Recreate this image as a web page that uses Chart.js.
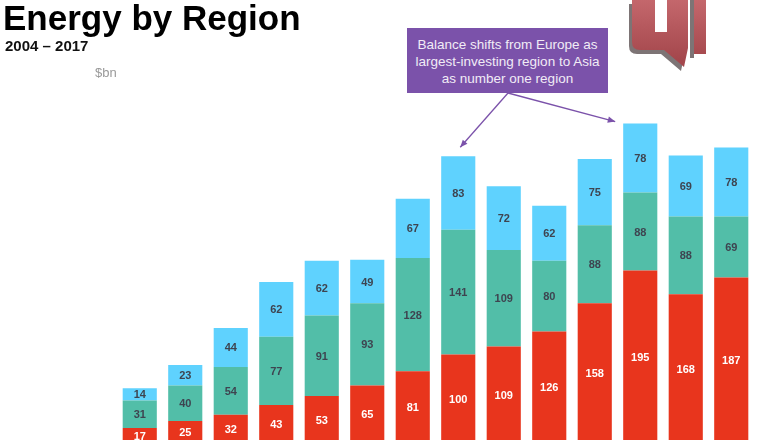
<!DOCTYPE html>
<html>
<head>
<meta charset="utf-8">
<title>Energy by Region</title>
<script src="https://cdn.jsdelivr.net/npm/chart.js@4.4.1/dist/chart.umd.min.js"></script>
<style>
  html, body { margin: 0; padding: 0; background: #fff; overflow: hidden; }
  body { width: 780px; height: 440px; position: relative; font-family: "Liberation Sans", Arial, Helvetica, sans-serif; }
  #wrap { position: absolute; left: 0; top: 0; width: 780px; height: 450px; }
  .title { position: absolute; left: 3px; top: 0px; font-size: 35px; line-height: 35px; font-weight: bold; color: #000; white-space: nowrap; }
  .sub { position: absolute; left: 5px; top: 38px; font-size: 15px; line-height: 15px; font-weight: bold; color: #111; white-space: nowrap; }
  .unit { position: absolute; left: 95px; top: 66px; font-size: 13px; line-height: 13px; color: #999; }
  .note { position: absolute; left: 407px; top: 28px; width: 201px; height: 65px; background: #7b52aa;
          color: #f1ecf6; font-size: 13.5px; line-height: 17px; text-align: center;
          display: flex; align-items: center; justify-content: center; box-sizing: border-box; padding-top: 1px; }
</style>
</head>
<body>
<div id="wrap"><canvas id="barChart"></canvas></div>
<div class="title">Energy by Region</div>
<div class="sub">2004 – 2017</div>
<div class="unit">$bn</div>
<div class="note">Balance shifts from Europe as<br>largest-investing region to Asia<br>as number one region</div>

<script>
/* global Chart */

// datos
const years = ['2004', '2005', '2006', '2007', '2008', '2009', '2010', '2011', '2012', '2013', '2014', '2015', '2016', '2017'];
const asia = [17, 25, 32, 43, 53, 65, 81, 100, 109, 126, 158, 195, 168, 187];
const europe = [31, 40, 54, 77, 91, 93, 128, 141, 109, 80, 88, 88, 88, 69];
const others = [14, 23, 44, 62, 62, 49, 67, 83, 72, 62, 75, 78, 69, 78];

const purple = '#7b52aa';

// etiquetas de valor en el centro de cada segmento
const valueLabels = {
    id: 'valueLabels',
    afterDatasetsDraw(chart) {
        const ctx = chart.ctx;
        ctx.save();
        ctx.font = 'bold 11px "Liberation Sans", Arial, sans-serif';
        ctx.textAlign = 'center';
        ctx.textBaseline = 'middle';
        chart.data.datasets.forEach((ds, i) => {
            const meta = chart.getDatasetMeta(i);
            meta.data.forEach((bar, j) => {
                const y = (bar.y + bar.base) / 2;
                ctx.fillStyle = i === 0 ? '#ffffff' : '#3e4450';
                ctx.fillText(ds.data[j], bar.x, y + 1);
            });
        });
        ctx.restore();
    }
};

// flechas desde la nota hacia 2011 y 2015
function arrow(ctx, x1, y1, x2, y2) {
    const a = Math.atan2(y2 - y1, x2 - x1);
    ctx.beginPath();
    ctx.moveTo(x1, y1);
    ctx.lineTo(x2, y2);
    ctx.stroke();
    ctx.beginPath();
    ctx.moveTo(x2, y2);
    ctx.lineTo(x2 - 8 * Math.cos(a - 0.4), y2 - 8 * Math.sin(a - 0.4));
    ctx.lineTo(x2 - 8 * Math.cos(a + 0.4), y2 - 8 * Math.sin(a + 0.4));
    ctx.closePath();
    ctx.fill();
}

const arrows = {
    id: 'arrows',
    afterDraw(chart) {
        const ctx = chart.ctx;
        const top = chart.getDatasetMeta(2).data;
        const b2011 = top[years.indexOf('2011')];
        const b2015 = top[years.indexOf('2015')];
        ctx.save();
        ctx.strokeStyle = purple;
        ctx.fillStyle = purple;
        ctx.lineWidth = 1.3;
        arrow(ctx, 508, 93, b2011.x + 2, b2011.y - 9);
        arrow(ctx, 508, 93, b2015.x - b2015.width / 2 - 8, b2015.y - 2);
        ctx.restore();
    }
};

// logo recortado arriba a la derecha
const logo = {
    id: 'logo',
    afterDraw(chart) {
        const ctx = chart.ctx;
        function qShape(dx, dy) {
            ctx.beginPath();
            ctx.moveTo(632 + dx, 0 + dy);
            ctx.lineTo(688 + dx, 0 + dy);
            ctx.lineTo(688 + dx, 48 + dy);
            ctx.lineTo(684 + dx, 67 + dy);
            ctx.lineTo(664 + dx, 50 + dy);
            ctx.lineTo(640 + dx, 50 + dy);
            ctx.quadraticCurveTo(632 + dx, 50 + dy, 632 + dx, 42 + dy);
            ctx.closePath();
        }
        ctx.save();
        ctx.fillStyle = '#7d7475';
        qShape(-3, 4);
        ctx.fill();
        ctx.fillRect(690, 0, 4, 58);
        const g = ctx.createLinearGradient(0, 0, 0, 60);
        g.addColorStop(0, '#c4676c');
        g.addColorStop(1, '#a4474c');
        ctx.fillStyle = g;
        qShape(0, 0);
        ctx.fill();
        ctx.fillRect(694, 0, 12, 54);
        ctx.fillStyle = '#ffffff';
        ctx.fillRect(655, 0, 12, 32);
        ctx.restore();
    }
};

const ctx = document.getElementById('barChart').getContext('2d');
const myChart = new Chart(ctx, {
    type: 'bar',
    data: {
        labels: years,
        datasets: [
            { label: 'Asia', data: asia, backgroundColor: '#e8351d' },
            { label: 'Europe', data: europe, backgroundColor: '#52bea8' },
            { label: 'Other', data: others, backgroundColor: '#5fd2fe' }
        ]
    },
    options: {
        responsive: true,
        maintainAspectRatio: false,
        animation: false,
        layout: { padding: { top: 89, left: 117, right: 26, bottom: 7 } },
        datasets: { bar: { barPercentage: 0.75, categoryPercentage: 1 } },
        scales: {
            x: { stacked: true, display: false },
            y: { stacked: true, display: false, min: 0, max: 400 }
        },
        plugins: {
            legend: { display: false },
            tooltip: { enabled: false }
        }
    },
    plugins: [valueLabels, arrows, logo]
});
</script>
</body>
</html>
